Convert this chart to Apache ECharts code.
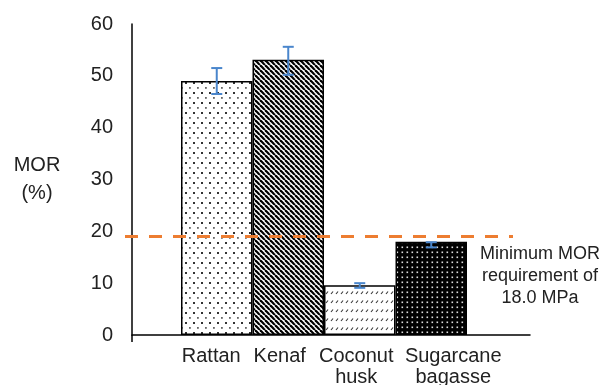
<!DOCTYPE html>
<html>
<head>
<meta charset="utf-8">
<script src="https://cdn.jsdelivr.net/npm/echarts@6/dist/echarts.min.js"></script>
<style>
html,body{margin:0;padding:0;background:#fff;}
#chart{width:604px;height:385px;}
</style>
</head>
<body>
<div id="chart"></div>
<script>
// ---- data ----
var categories = ['Rattan', 'Kenaf', 'Coconut\nhusk', 'Sugarcane\nbagasse'];
var morValues = [49.0, 53.1, 9.6, 18.0];
var errLow = [46.5, 50.2, 9.1, 16.9];
var errHigh = [51.5, 55.6, 10.0, 17.9];
var thresholdValue = 19;
var yTicks = [0, 10, 20, 30, 40, 50, 60];
var yAxisName = 'MOR\n(%)';
var annotation = 'Minimum MOR\nrequirement of\n18.0 MPa';

// ---- patterns ----
function tile(w, h, draw) {
  var c = document.createElement('canvas');
  c.width = w; c.height = h;
  var ctx = c.getContext('2d');
  draw(ctx, w, h);
  return c;
}
var pRattan = tile(8, 10, function (ctx, w, h) {
  ctx.fillStyle = '#fff'; ctx.fillRect(0, 0, w, h);
  ctx.fillStyle = '#333';
  ctx.fillRect(1, 2, 2, 2);
  ctx.fillStyle = '#666';
  ctx.fillRect(5, 7, 1.8, 1.8);
});
var pKenaf = tile(5, 5, function (ctx, w, h) {
  ctx.fillStyle = '#fff'; ctx.fillRect(0, 0, w, h);
  ctx.strokeStyle = '#000'; ctx.lineWidth = 2.2;
  for (var k = -1; k <= 1; k++) {
    ctx.beginPath();
    ctx.moveTo(k * w, 0); ctx.lineTo(k * w + w, h); ctx.stroke();
  }
});
var pCoconut = tile(5, 9, function (ctx, w, h) {
  ctx.fillStyle = '#fff'; ctx.fillRect(0, 0, w, h);
  ctx.strokeStyle = '#333'; ctx.lineWidth = 1.1;
  ctx.beginPath(); ctx.moveTo(1, 6); ctx.lineTo(3, 3.5); ctx.stroke();
});
var pSugar = tile(5, 5, function (ctx, w, h) {
  ctx.fillStyle = '#000'; ctx.fillRect(0, 0, w, h);
  ctx.fillStyle = '#ddd';
  ctx.fillRect(1.5, 1.5, 1.6, 1.6);
});
var patterns = [pRattan, pKenaf, pCoconut, pSugar];
// label shifts (padding) so labels sit as in the original
var labelPads = [[0, 11, 0, 0], [0, 17, 0, 0], [0, 7, 0, 0], [0, 0, 0, 44]];

var chart = echarts.init(document.getElementById('chart'), null, {renderer: 'canvas'});
var font = '"Liberation Sans", Arial, sans-serif';
var txt = '#222';

var option = {
  animation: false,
  backgroundColor: '#fff',
  grid: [
    {left: 132, right: 74, top: 24, bottom: 50, outerBoundsMode: 'none', containLabel: false},
    {left: 181, right: 137, top: 24, bottom: 50, outerBoundsMode: 'none', containLabel: false},
    {left: 125, right: 91, top: 24, bottom: 50, outerBoundsMode: 'none', containLabel: false}
  ],
  xAxis: [
    {gridIndex: 0, type: 'value', min: 0, max: 1,
     axisLine: {show: true, lineStyle: {color: '#000', width: 1.5}},
     axisTick: {show: true, customValues: [0], length: 7, lineStyle: {color: '#000', width: 1.5}},
     axisLabel: {show: false}, splitLine: {show: false}},
    {gridIndex: 1, type: 'category',
     data: categories.map(function (c, i) {
       return {value: c, textStyle: {padding: labelPads[i]}};
     }),
     axisLine: {show: false}, axisTick: {show: false},
     axisLabel: {fontSize: 20, color: txt, fontFamily: font, lineHeight: 21, margin: 11, interval: 0}},
    {gridIndex: 2, type: 'value', min: 0, max: 1, show: false}
  ],
  yAxis: [
    {gridIndex: 0, type: 'value', min: 0, max: 60, interval: 10,
     axisLine: {show: true, lineStyle: {color: '#000', width: 1.5}},
     axisTick: {show: false}, splitLine: {show: false},
     axisLabel: {fontSize: 20, color: txt, fontFamily: font, margin: 19,
                 customValues: yTicks},
     name: yAxisName, nameLocation: 'middle', nameRotate: 0, nameGap: 95,
     nameTextStyle: {fontSize: 20, color: txt, fontFamily: font, lineHeight: 28, align: 'center', padding: [0, 0, 22, 0]}},
    {gridIndex: 1, type: 'value', min: 0, max: 60, show: false},
    {gridIndex: 2, type: 'value', min: 0, max: 60, show: false}
  ],
  series: [
    {type: 'bar', xAxisIndex: 1, yAxisIndex: 1, barWidth: '100%', barCategoryGap: '0%',
     data: morValues.map(function (v, i) {
       return {value: v, itemStyle: {color: {image: patterns[i], repeat: 'repeat'}, borderColor: '#000', borderWidth: 1.5}};
     }), z: 2},
    {type: 'custom', xAxisIndex: 1, yAxisIndex: 1, z: 5,
     data: categories.map(function (c, i) { return [i, errLow[i], errHigh[i]]; }),
     renderItem: function (params, api) {
       var lo = api.coord([api.value(0), api.value(1)]);
       var hi = api.coord([api.value(0), api.value(2)]);
       var hw = 5.5;
       var st = {stroke: '#4A86CC', lineWidth: 2};
       return {type: 'group', children: [
         {type: 'line', shape: {x1: lo[0], y1: lo[1], x2: hi[0], y2: hi[1]}, style: st},
         {type: 'line', shape: {x1: lo[0] - hw, y1: lo[1], x2: lo[0] + hw, y2: lo[1]}, style: st},
         {type: 'line', shape: {x1: hi[0] - hw, y1: hi[1], x2: hi[0] + hw, y2: hi[1]}, style: st}
       ]};
     }},
    {type: 'line', xAxisIndex: 2, yAxisIndex: 2, symbol: 'none', z: 6,
     data: [[0, thresholdValue], [1, thresholdValue]],
     lineStyle: {color: '#ED7D31', width: 3, type: [13, 11]}}
  ],
  graphic: [
    {type: 'text', x: 540, y: 243, z: 10,
     style: {text: annotation, fontSize: 18, fontFamily: font, fill: txt, align: 'center', verticalAlign: 'top', lineHeight: 22}}
  ]
};
chart.setOption(option);
</script>
</body>
</html>
